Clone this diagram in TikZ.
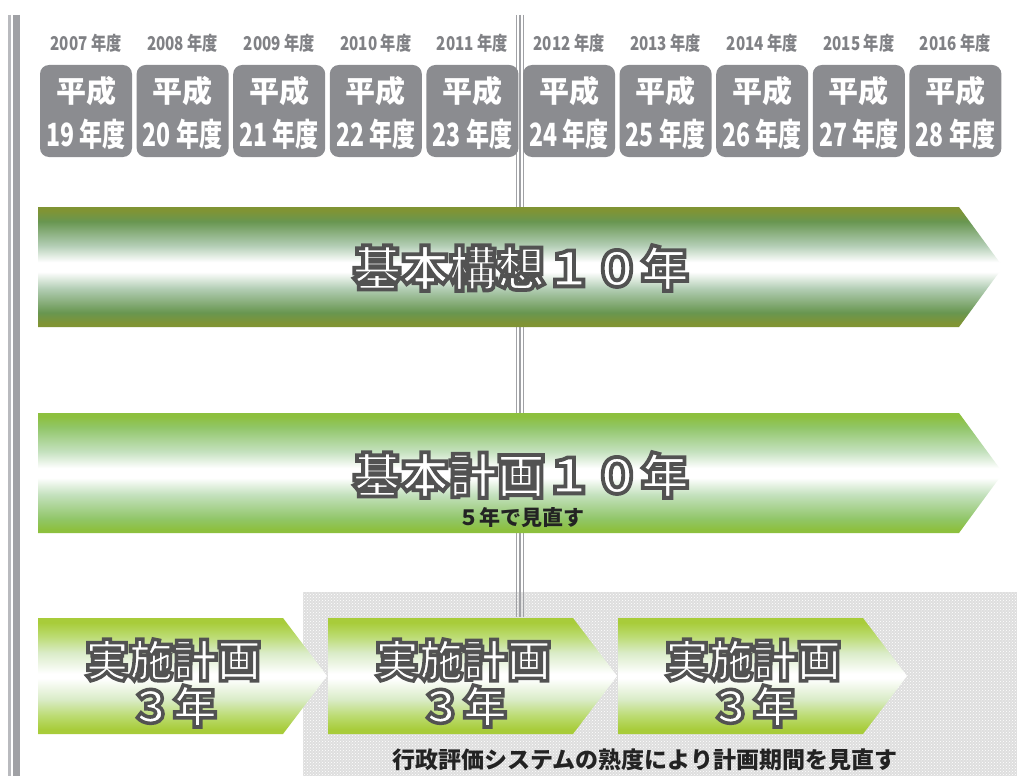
\documentclass[tikz,border=0pt]{standalone}
\usepackage{fontspec}
\usepackage{graphicx}
\usetikzlibrary{patterns}
\newfontfamily\jp{Noto Sans CJK JP}
\newfontfamily\jpo[FakeBold=8]{Noto Sans CJK JP Black}
\definecolor{boxgray}{RGB}{139,140,144}
\definecolor{yeargray}{RGB}{128,129,133}
\definecolor{lineA}{RGB}{160,161,165}
\definecolor{lineB}{RGB}{185,186,190}
\definecolor{olA}{RGB}{128,148,52}
\definecolor{grA}{RGB}{104,150,80}
\definecolor{lgA}{RGB}{178,205,180}
\definecolor{edB}{RGB}{141,192,62}
\definecolor{grB}{RGB}{145,198,105}
\definecolor{lgB}{RGB}{196,225,190}
\definecolor{edC}{RGB}{168,204,58}
\definecolor{grC}{RGB}{188,220,115}
\definecolor{lgC}{RGB}{218,236,200}
\definecolor{texgray}{RGB}{222,222,222}
\definecolor{darktxt}{RGB}{35,35,35}
\pgfdeclareverticalshading{shA}{100bp}{color(0bp)=(olA); color(25bp)=(olA); color(26.5bp)=(olA); color(31bp)=(grA); color(41bp)=(lgA); color(48bp)=(white); color(52bp)=(white); color(59bp)=(lgA); color(69bp)=(grA); color(73.5bp)=(olA); color(75bp)=(olA); color(100bp)=(olA)}
\pgfdeclareverticalshading{shB}{100bp}{color(0bp)=(edB); color(25bp)=(edB); color(26.5bp)=(edB); color(31bp)=(grB); color(41bp)=(lgB); color(48bp)=(white); color(52bp)=(white); color(59bp)=(lgB); color(69bp)=(grB); color(73.5bp)=(edB); color(75bp)=(edB); color(100bp)=(edB)}
\pgfdeclareverticalshading{shC}{100bp}{color(0bp)=(edC); color(25bp)=(edC); color(27bp)=(edC); color(33bp)=(grC); color(40bp)=(lgC); color(49bp)=(white); color(51bp)=(white); color(60bp)=(lgC); color(67bp)=(grC); color(73bp)=(edC); color(75bp)=(edC); color(100bp)=(edC)}
% white fill, dark grey stroke (text rendered with fake-bold stroke)
\newcommand\outlined[1]{\special{pdf:bcolor [1] [0.32]}#1\special{pdf:ecolor}}
\tikzset{
  yearlbl/.style={text=yeargray, font=\jp\bfseries\fontsize{19}{22}\selectfont, inner sep=0pt},
  heisei/.style={text=white, font=\jp\bfseries\fontsize{30}{34}\selectfont, inner sep=0pt},
  nendo/.style={text=white, font=\jp\bfseries\fontsize{32}{36}\selectfont, inner sep=0pt},
  bigtxt/.style={text=white, font=\jpo\fontsize{48}{52}\selectfont, inner sep=0pt},
  smalltxt/.style={text=white, font=\jpo\fontsize{44}{46}\selectfont, inner sep=0pt},
  note/.style={text=darktxt, font=\jp\bfseries\fontsize{21}{24}\selectfont, inner sep=0pt},
  yearbox/.style={fill=boxgray, rounded corners=9pt},
}
\begin{document}
\begin{tikzpicture}[x=1pt,y=-1pt]
\useasboundingbox (0,0) rectangle (1017,776);
\fill[white] (0,0) rectangle (1017,776);
% textured area
\fill[texgray] (303,592) rectangle (1017,776);
\fill[pattern=crosshatch dots, pattern color=white] (303,592) rectangle (1017,776);
% vertical lines
\draw[lineB, line width=3pt] (9.5,15) -- (9.5,776);
\draw[lineA, line width=7pt] (16.5,15) -- (16.5,776);
\foreach \xx in {516.5,520,523.5}
  \draw[lineA, line width=1.5pt] (\xx,15) -- (\xx,617);
% year boxes
\foreach \i in {0,...,9}{
  \pgfmathsetmacro{\bx}{40+96.6*\i}
  \fill[yearbox] (\bx,65) rectangle +(92,92);
  \node[yearlbl] (y\i) at (\bx+46,43) {\scalebox{0.8}[1]{\the\numexpr2007+\i\relax\ 年度}};
  \node[heisei] (h\i) at (\bx+46,91) {平成};
  \node[nendo] (n\i) at (\bx+46,134) {\scalebox{0.72}[1]{\the\numexpr19+\i\relax\ 年度}};
}
% big arrows
\shade[shading=shA] (38,207) -- (959,207) -- (1003,267) -- (959,327) -- (38,327) -- cycle;
\shade[shading=shB] (38,413) -- (959,413) -- (1003,473) -- (959,533) -- (38,533) -- cycle;
% small arrows
\foreach \o in {0,290,580}
  \shade[shading=shC] (38+\o,618) -- (283+\o,618) -- (327+\o,676) -- (283+\o,734) -- (38+\o,734) -- cycle;
% texts
\node[bigtxt] (kousou) at (521,268) {\outlined{基本構想１０年}};
\node[bigtxt] (keikaku) at (521,475) {\outlined{基本計画１０年}};
\node[note] (minaoshi) at (521,518) {５年で見直す};
\foreach \o/\nm in {0/a,290/b,580/c}{
  \node[smalltxt] (j\nm) at (173+\o,660) {\outlined{実施計画}};
  \node[smalltxt] (s\nm) at (173+\o,706) {\outlined{３年}};
}
\node[note, font=\jp\bfseries\fontsize{23}{26}\selectfont] (gyousei) at (645,760) {行政評価システムの熟度により計画期間を見直す};
\end{tikzpicture}
\end{document}
